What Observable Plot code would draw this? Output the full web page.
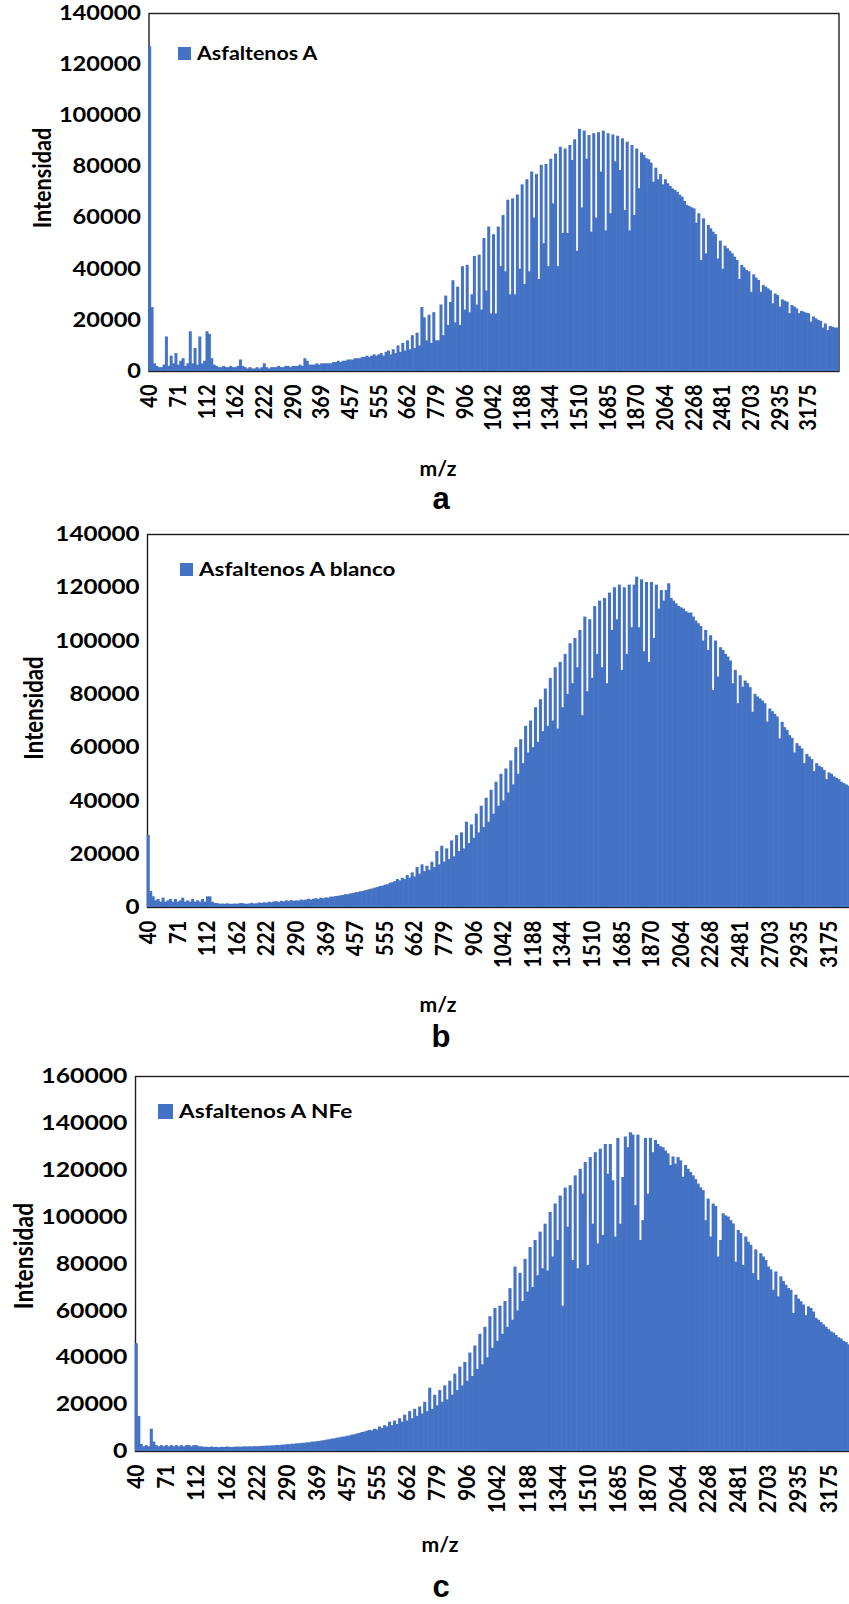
<!DOCTYPE html>
<html>
<head>
<meta charset="utf-8">
<script src="https://cdn.jsdelivr.net/npm/d3@7"></script>
<script src="https://cdn.jsdelivr.net/npm/@observablehq/plot@0.6"></script>
<style>
  html, body { margin: 0; padding: 0; background: #fff; overflow: hidden; }
  #page { position: relative; width: 849px; height: 1604px; overflow: hidden; background: #fff; }
  #page svg { position: absolute; left: 0; overflow: hidden; max-width: none !important; }
  #page svg text { font-family: Lato, "Open Sans", sans-serif; font-weight: 700; fill: #000; }
  .lbl { position: absolute; white-space: nowrap; font-family: Lato, "Open Sans", sans-serif; font-weight: 700; color: #000; line-height: 1; }
  .key { position: absolute; background: #4472C4; }
</style>
</head>
<body>
<div id="page"></div>
<script>
// m/z category labels shown every 12th bin
const mzLabels = [40, 71, 112, 162, 222, 290, 369, 457, 555, 662, 779, 906, 1042, 1188, 1344, 1510, 1685, 1870, 2064, 2268, 2481, 2703, 2935, 3175];
const yTicks140 = [0, 20000, 40000, 60000, 80000, 100000, 120000, 140000];
const yTicks160 = [0, 20000, 40000, 60000, 80000, 100000, 120000, 140000, 160000];

// intensity per m/z bin, in thousands of counts
const asfaltenosA = [
  127,25,3,2,1.5,1.5,2.5,13.5,2,6,3,7,2.5,4,5,2,3,15.5,3,9,2.5,13.5,3,4,15.5,14.5,5,2.5,
  2,1.5,1.5,2,1.5,1.5,2,1.5,1.5,2, 4.5,2,1.5,1,1.5,1,1,1.5,1,1.5, 3,1.5,1,1.5,1.5,1.5,2,1.5,1.5,2, 2,1.5,
  2,2,2,2.5,2,5,4,2.5,2.5,2.5, 3,2.5,3,3,3,3,3,3.5,3.5,4, 3.5,4,4,4.5,4.5,4.5,5,5,5,5.5, 5.5,6,5.5,6,6.5,6,
  6.5,7,6,7.5,8,6.5,8.5,7,10,7.5, 11,8,12,8.5,14,9,15,10,25,21, 12,22,11,23,12,
  12,26,14,29.5,18,27,35.5,19,33,18, 41,24,41.5,23,30,45,26,45.5,24,52,
  31.5,56.5,22.5,53.5,22.5,56.5,41,61,39,67, 30,67.5,30,69,40,73,34,75,39,78,
  60,77,36,80.6,50,81,41,83,65.6,85, 41,87.7,54,87,54,88.4,82.5,90.6,47,94.7,
  64,94,83,92.3,54.5,93,60,93.4,
  78,94,55,93,61.7,92.5,82,92,78.6,91, 63,89.7,55,88.4,61,87,71.5,85.5,84.5,83.2,
  82.8,81.5,74,79.5,75,77,73,75,73.4,72.4, 71.4,70.8,70.1,69,68.2,66.5,65,64.5,64,63.6,
  58,61.7,43.4,59.7,46,57.1,55.8,54.5,53.5,44, 51,40,49,48,47,46,44.7,43.4,36,41.5,
  40.5,39.5,39,31,37.8,36.5,35.6,31,33.6,33, 32.3,31.6,26.5,30.3,29.7,25.2,28,27.5,27.1,22.6,
  25.8,25.2,24.5,22.6,23.5,23.2,22.8,22.6,19.3,21.3, 20.6,20,19.6,17,18.6,16,17.6,17.3,17,17
];

const asfaltenosABlanco = [
  27,6,4,2.5,3,2,3.5,2,2.5,3, 2,3,2,2.5,3.5,2,2.5,2,3,2, 2.5,2,3,2,4,4,2,1.5,
  1.5,1.2,1.3,1.2,1.4,1.2,1.2,1.3,1.2,1.4, 1.5,1.3,1.2,1.3,1.6,1.3,1.4,1.7,1.5,1.8,
  1.6,2,1.8,2.1,2.2,1.9,2.3,2.1,2.5,2.2, 2.6,2.3,2.5,2.4,2.8,2.6,2.8,3.1,2.8,3.1,
  3.3,3,3.5,3.3,3.6,3.5,3.9,3.9,4.1,4.2, 4.4,4.5,4.8,4.8,5.1,5.2,5.5,5.6,5.9,6,
  6.3,6.5,6.8,7,7.3,7.5,7.9,8,8.4,8.5, 9.1,9.3,9.7,
  10.5,10,11,10.5,12,11,13,11.5,15,12.5, 16,13.5,15.5,14,17,15,21,16,23,17,
  22,18,25,19,27,21,28,22,32,24, 31,26,35,28,38,30,41,32,44,35,
  47,38,50,40,52,43,55,46,60,50, 63,54,68,58,70,60,75,62,78,66,
  82,68,86,70,90,67,92,75,95,80, 99,84,101,90,104,72,109,81,108,86,
  113,95,115,90,116,84,118,104,120,108, 121,89,120,95,121,105,121,124,105,123,
  96,122,92,122,101,121,112,119,115,119,
  121.5,116,115,114,113,112.5,112,111,110.5,110.5, 109,107.5,106.5,105.5,100,104,96.5,102,81.5,100,
  86.5,97.5,96.5,95,94,92.5,84,89,76.5,87, 82.7,85,84,82.5,73.3,80,79,78.3,77.5,76.5,
  69.6,74.5,73.5,72.5,71.5,63.3,69.5,67.5,66.5,64.5, 63.5,58,61.5,60.5,59.5,54,57.5,56.5,55.5,51,
  54,53,52.5,51.5,48,50.5,50,49,48.5,48, 47,46.5,46,45.5,45,44.5,44,43.5,43
];

const asfaltenosANFe = [
  46,15,3,2,2.5,2,9.5,4,2.5,2, 2.5,2,2.5,2,2.5,2,2.5,2,2.5,2, 2.5,2.5,2,2.5,2.5,2,2,1.8,
  1.8,1.7,1.9,1.7,1.8,1.6,1.8,1.7,1.9,1.8, 1.7,1.8,1.9,1.9,1.8,2,1.9,2,1.9,2.1,
  2,2.1,2.2,2.2,2.3,2.3,2.4,2.4,2.6,2.5, 2.7,2.7,2.9,2.9,3.1,3.1,3.3,3.3,3.5,3.5,
  3.7,3.7,4,4,4.2,4.3,4.5,4.6,4.9,5, 5.3,5.4,5.7,5.8,6.1,6.2,6.5,6.6,7,7.1,
  7.5,7.7,8.1,8.3,8.7,9,8.8,9.5,9.2,10.5, 9.8,11,10.5,
  12.5,11,13,11.5,14,12.5,15.5,13,17,14, 18,15,19,16,21,17,27,18,24,19.5,
  26,21,28,22,30,24,33,26,36,28, 38,30,42,32,45,35,50,37,53,40,
  57.5,44,61,47,62,50,64,53,69.5,56, 78.7,60,76,64,82,68,87,70,90,75,
  93.6,78,97,77,102,83,105.6,90,109,62, 112.4,95.7,113.4,81.5,117.6,78,120.4,109.8,123.3,79.4,
  125.4,97,127.5,88.6,129,92.2,131,118.3,131,115.5, 91.5,133.6,97,116.9,134.2,129.6,136,135,104.9,135,
  90,98.5,133.6,109.8,133.6,127.5,132.7,131,130,129.6,
  128.2,127,122,125.7,122.6,125.4,124,117,122,120.4, 119,117.6,116,114.1,112.5,111.3,98.5,107.7,91.5,105.6,
  104.5,83,90,101.4,100.5,100,98.5,97.1,80.8,94.3, 93,79.4,91.5,89.3,88,75.9,86,73,84.4,83,
  81.5,78.7,77.5,68.8,76.6,66,74.5,72.5,70.9,69.5, 68.8,58.9,66.7,65,63.9,62.5,58,61.7,61,59.5,
  56.8,56,55,54,53,52,51,50.5,49.5,48.5, 48,47,46.5,45.5,45,44.5,44,43.5,43
];

const seriesNames = ["Asfaltenos A", "Asfaltenos A blanco", "Asfaltenos A NFe"];
const panelLetters = ["a", "b", "c"];

const page = document.getElementById("page");
const BLUE = "#4472C4";
const STRETCH = 1.18; // the lettering of the figure is set slightly wide

// size a div's font so that its natural width equals `width`
function fitWidth(el, size, width) {
  el.style.fontSize = size + "px";
  const w = el.offsetWidth;
  if (w > 0) el.style.fontSize = (size * width / w) + "px";
}

function addLabel(text, cx, cy, size, opts = {}) {
  const el = document.createElement("div");
  el.className = "lbl";
  el.textContent = text;
  if (opts.family) el.style.fontFamily = opts.family;
  page.appendChild(el);
  if (opts.width) fitWidth(el, size, opts.width); else el.style.fontSize = size + "px";
  el.style.left = cx + "px";
  el.style.top = cy + "px";
  el.style.transform = "translate(-50%,-50%)" + (opts.extra || "");
}

function addLegend(text, x, cy, box, textWidth) {
  const sq = document.createElement("div");
  sq.className = "key";
  sq.style.left = x + "px";
  sq.style.top = (cy - box / 2) + "px";
  sq.style.width = box + "px";
  sq.style.height = box + "px";
  page.appendChild(sq);
  const t = document.createElement("div");
  t.className = "lbl";
  t.textContent = text;
  page.appendChild(t);
  fitWidth(t, 20, textWidth / STRETCH);
  t.style.left = (x + box + 6) + "px";
  t.style.top = cy + "px";
  t.style.transformOrigin = "left center";
  t.style.transform = `translateY(-50%) scaleX(${STRETCH})`;
}

// widen tick labels in place by appending a scale to their own transform
function stretchTicks(svg, axis, sx, sy) {
  svg.querySelectorAll(`g[aria-label="${axis}-axis tick label"] text`).forEach(t => {
    const tr = t.getAttribute("transform");
    if (tr) {
      t.setAttribute("transform", `${tr} scale(${sx},${sy})`);
    } else {
      const x = +(t.getAttribute("x") || 0), y = +(t.getAttribute("y") || 0);
      t.removeAttribute("x");
      t.removeAttribute("y");
      t.setAttribute("transform", `translate(${x},${y}) scale(${sx},${sy})`);
    }
  });
}

const layout = [
  {values: asfaltenosA, yMax: 140000, yTicks: yTicks140, top: 0, plotTop: 13, plotBottom: 371, left: 148.5, step: 28.65 / 12, svgWidth: 849, fs: 20,
   legend: [178, 53, 13, 121], ytitle: [43, 178, 100], mz: [438, 469], letter: [441, 498]},
  {values: asfaltenosABlanco, yMax: 140000, yTicks: yTicks140, top: 520, plotTop: 534, plotBottom: 907, left: 147, step: 29.6 / 12, svgWidth: 900, fs: 20.5,
   legend: [180, 569, 13, 197], ytitle: [34, 708, 103], mz: [438, 1005], letter: [441, 1036]},
  {values: asfaltenosANFe, yMax: 160000, yTicks: yTicks160, top: 1060, plotTop: 1076, plotBottom: 1451, left: 135, step: 30.1 / 12, svgWidth: 900, fs: 21,
   legend: [158, 1111, 15, 173], ytitle: [22.5, 1256, 106], mz: [440, 1545], letter: [441, 1586]}
];

layout.forEach((p, k) => {
  const n = p.values.length;
  const plotWidth = n * p.step;
  const height = p.plotBottom - p.top + 90;
  const chart = Plot.plot({
    width: p.svgWidth,
    height,
    marginLeft: p.left,
    marginRight: p.svgWidth - p.left - plotWidth,
    marginTop: p.plotTop - p.top,
    marginBottom: height - (p.plotBottom - p.top),
    style: {background: "transparent", fontSize: p.fs + "px", maxWidth: "none"},
    x: {type: "band", domain: d3.range(n), padding: 0},
    y: {domain: [0, p.yMax]},
    marks: [
      Plot.frame({stroke: "#1e1e1e", strokeWidth: 1.4}),
      Plot.barY(p.values, {x: (d, i) => i, y: d => d * 1000, fill: BLUE, insetLeft: -0.3, insetRight: -0.3}),
      Plot.axisX({ticks: mzLabels.map((_, j) => j * 12), tickFormat: i => String(mzLabels[i / 12]),
        tickRotate: -90, tickSize: 0, tickPadding: 13, label: null, fontSize: p.fs, fontWeight: 700}),
      Plot.axisY({ticks: p.yTicks, tickFormat: d => String(d), tickSize: 0, tickPadding: 8,
        label: null, fontSize: p.fs, fontWeight: 700})
    ]
  });
  chart.style.top = p.top + "px";
  chart.style.maxWidth = "none";
  chart.setAttribute("width", p.svgWidth);
  chart.style.width = p.svgWidth + "px";
  stretchTicks(chart, "y", STRETCH, 1);
  stretchTicks(chart, "x", 1, 1.12);
  page.appendChild(chart);

  addLegend(seriesNames[k], p.legend[0], p.legend[1], p.legend[2], p.legend[3]);
  addLabel("Intensidad", p.ytitle[0], p.ytitle[1], 19, {width: p.ytitle[2], extra: ` rotate(-90deg) scaleY(${STRETCH})`});
  addLabel("m/z", p.mz[0], p.mz[1], 20, {width: 37});
  addLabel(panelLetters[k], p.letter[0], p.letter[1], 31, {family: '"Liberation Sans", Arial, sans-serif'});
});
</script>
</body>
</html>
